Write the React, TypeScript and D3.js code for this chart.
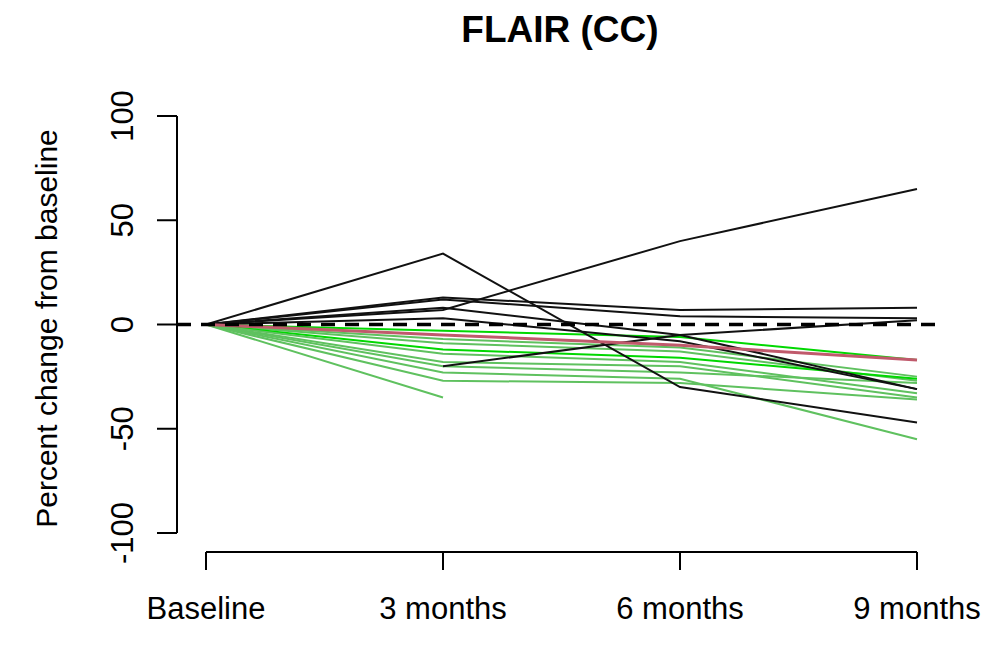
import React from "react"
import * as d3 from "d3"

const timepoints = ["Baseline", "3 months", "6 months", "9 months"]
const yTicks = [-100, -50, 0, 50, 100]

// black lines: individual subjects (null = not measured)
const blackSeries: (number | null)[][] = [
  [0, 34, -30, -47],
  [0, 7, 40, 65],
  [0, 13, 7, 8],
  [0, 12, 4, 3],
  [0, 8, -5, -31],
  [0, 3, -8, -31],
  [null, -20, -5, 2],
]

// green lines
const greenSeries: (number | null)[][] = [
  [0, -3, -6, -17],
  [0, -7, -11, -25],
  [0, -9, -13, -27],
  [0, -12, -16, -26],
  [0, -14, -18, -33],
  [0, -18, -20, -35],
  [0, -20, -23, -28],
  [0, -23, -26, -55],
  [0, -27, -28, -36],
  [0, -35, null, null],
]
const greenShades = ["#00d800", "#5fc15f", "#5fc15f", "#00d800", "#5fc15f", "#5fc15f", "#5fc15f", "#5fc15f", "#5fc15f", "#5fc15f"]

// mean line
const meanSeries: (number | null)[] = [0, -5, -10, -17]

const W = 994
const H = 653

export default function App() {
  const x = d3.scaleLinear().domain([0, 3]).range([206, 917])
  const y = d3.scaleLinear().domain([-100, 100]).range([533, 116])

  const line = d3
    .line<number | null>()
    .defined((d) => d !== null)
    .x((_, i) => x(i))
    .y((d) => y(d as number))

  const font = "'Liberation Sans', Arial, sans-serif"
  const axisX = 177
  const axisY = 552

  return (
    <>
      <style>{"body{margin:0}"}</style>
      <svg width={W} height={H} style={{ display: "block", background: "#fff" }} fontFamily={font}>
        <text x={560} y={42} textAnchor="middle" fontSize={37} fontWeight="bold">
          FLAIR (CC)
        </text>

        {/* y axis */}
        <line x1={axisX} x2={axisX} y1={y(100)} y2={y(-100)} stroke="#000" strokeWidth={2} />
        {yTicks.map((t) => (
          <g key={t}>
            <line x1={axisX - 20} x2={axisX} y1={y(t)} y2={y(t)} stroke="#000" strokeWidth={2} />
            <text
              transform={`translate(133,${y(t)}) rotate(-90)`}
              textAnchor="middle"
              fontSize={31}
            >
              {t}
            </text>
          </g>
        ))}
        <text transform={`translate(57,${y(0) + 4}) rotate(-90)`} textAnchor="middle" fontSize={30}>
          Percent change from baseline
        </text>

        {/* x axis */}
        <line x1={x(0)} x2={x(3)} y1={axisY} y2={axisY} stroke="#000" strokeWidth={2} />
        {timepoints.map((t, i) => (
          <g key={t}>
            <line x1={x(i)} x2={x(i)} y1={axisY} y2={axisY + 18} stroke="#000" strokeWidth={2} />
            <text x={x(i)} y={619} textAnchor="middle" fontSize={31}>
              {t}
            </text>
          </g>
        ))}

        {/* subject lines */}
        {greenSeries.map((s, i) => (
          <path key={"g" + i} d={line(s) ?? ""} fill="none" stroke={greenShades[i]} strokeWidth={2} />
        ))}
        {blackSeries.map((s, i) => (
          <path key={"b" + i} d={line(s) ?? ""} fill="none" stroke="#111" strokeWidth={2} />
        ))}
        <path d={line(meanSeries) ?? ""} fill="none" stroke="#c05a6c" strokeWidth={3} />

        {/* reference line at 0 */}
        <line
          x1={axisX}
          x2={945}
          y1={y(0)}
          y2={y(0)}
          stroke="#000"
          strokeWidth={3.5}
          strokeDasharray="14 10"
        />
      </svg>
    </>
  )
}
